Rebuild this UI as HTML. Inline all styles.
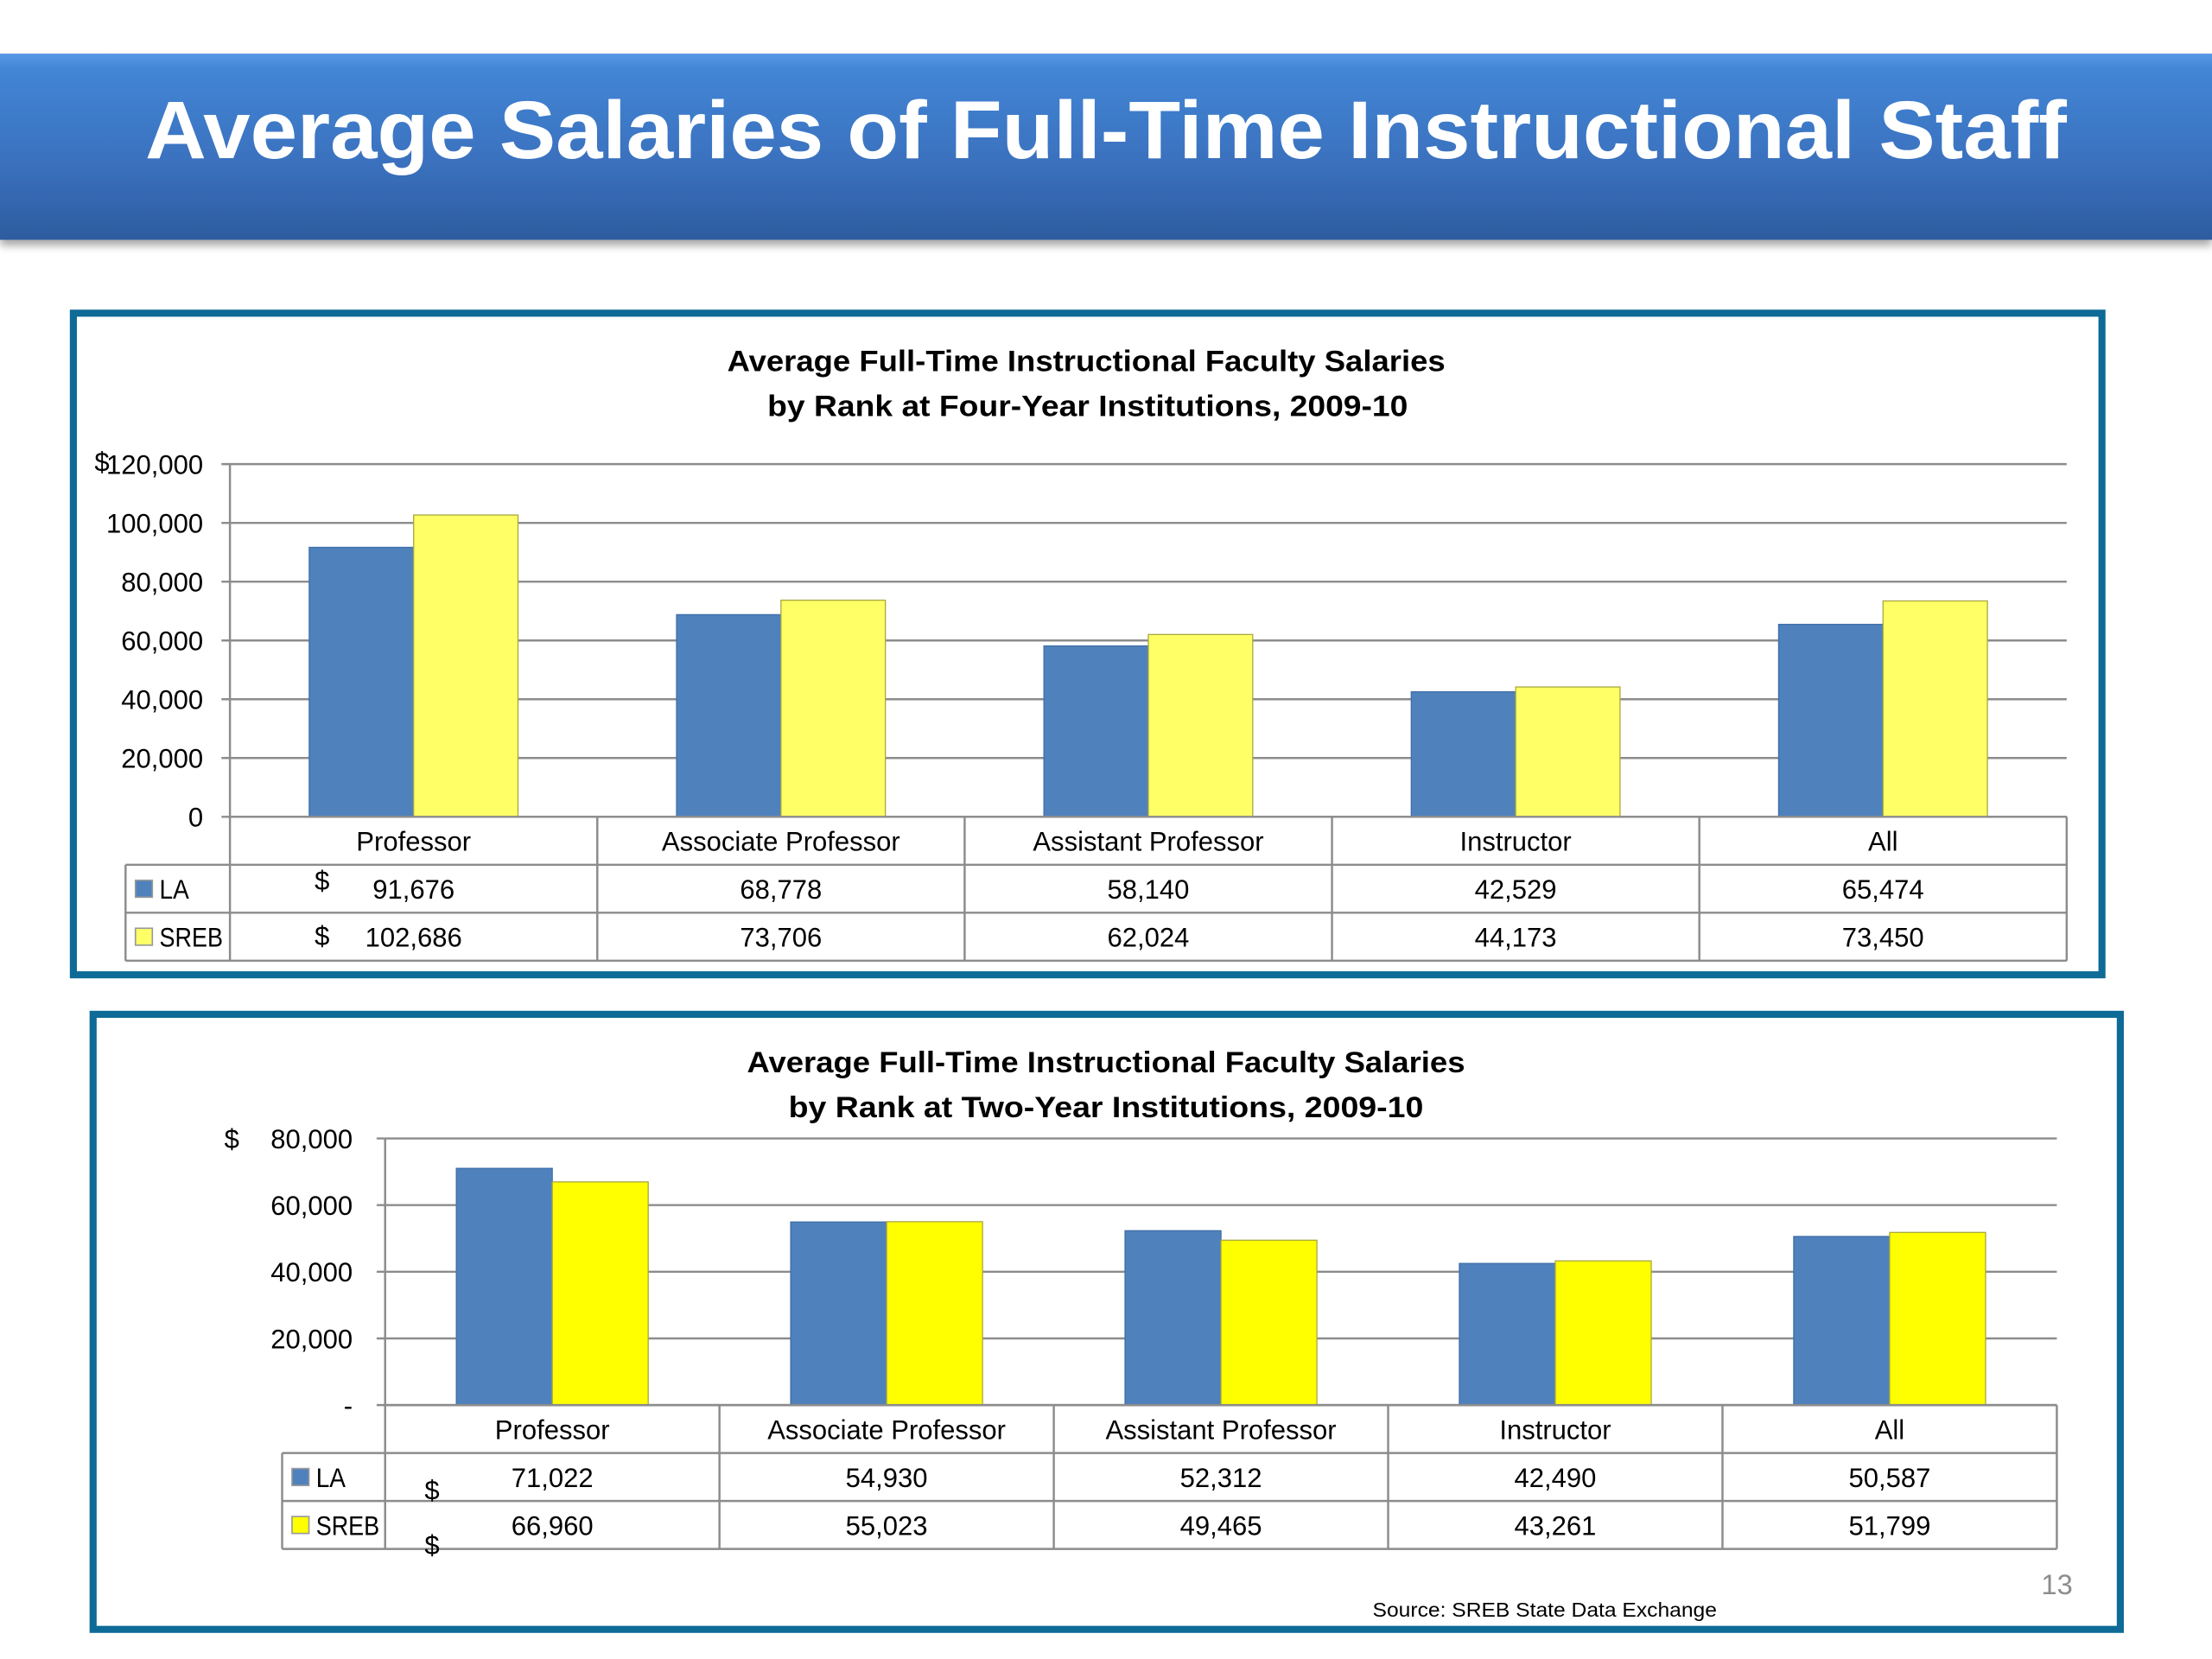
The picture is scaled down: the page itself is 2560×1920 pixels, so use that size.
<!DOCTYPE html>
<html><head><meta charset="utf-8"><style>
html,body{margin:0;padding:0;background:#fff;width:2560px;height:1920px;overflow:hidden}
svg{display:block}
text{font-family:"Liberation Sans",sans-serif}
</style></head><body>
<svg id="s" width="2560" height="1920" viewBox="0 0 1568 1176" xmlns="http://www.w3.org/2000/svg">
<defs>
<linearGradient id="bg" x1="0" y1="0" x2="0" y2="1">
<stop offset="0" stop-color="#5a9ae6"/><stop offset="0.08" stop-color="#4286d6"/><stop offset="0.6" stop-color="#3a70bd"/><stop offset="1" stop-color="#2d5c9f"/></linearGradient>
<filter id="sh" x="-5%" y="-20%" width="110%" height="150%"><feDropShadow dx="0" dy="4" stdDeviation="3" flood-color="#000" flood-opacity="0.35"/></filter>
</defs>
<rect x="0" y="38" width="1568" height="132" fill="url(#bg)" filter="url(#sh)"/>
<text x="784" y="112" text-anchor="middle" fill="#fff" font-weight="bold" font-size="58" textLength="1362" lengthAdjust="spacingAndGlyphs">Average Salaries of Full-Time Instructional Staff</text>

<rect x="52" y="222" width="1438" height="469" fill="#fff" stroke="#0e6a96" stroke-width="5"/>
<text x="770" y="263" text-anchor="middle" font-weight="bold" font-size="21" textLength="509" lengthAdjust="spacingAndGlyphs">Average Full-Time Instructional Faculty Salaries</text>
<text x="771" y="295" text-anchor="middle" font-weight="bold" font-size="21" textLength="454" lengthAdjust="spacingAndGlyphs">by Rank at Four-Year Institutions, 2009-10</text>
<text x="67" y="334" font-size="19">$</text>
<g id="c1"></g>

<rect x="66" y="719" width="1437" height="436" fill="#fff" stroke="#0e6a96" stroke-width="5"/>
<text x="784" y="760" text-anchor="middle" font-weight="bold" font-size="21" textLength="509" lengthAdjust="spacingAndGlyphs">Average Full-Time Instructional Faculty Salaries</text>
<text x="784" y="792" text-anchor="middle" font-weight="bold" font-size="21" textLength="450" lengthAdjust="spacingAndGlyphs">by Rank at Two-Year Institutions, 2009-10</text>
<text x="159" y="814" font-size="19">$</text>
<g id="c2"></g>

<text x="1447" y="1130" font-size="20" fill="#8c8c8c">13</text>
<text x="973" y="1146" font-size="14" textLength="244" lengthAdjust="spacingAndGlyphs">Source:  SREB State Data Exchange</text>
</svg>
<script>
const categories1 = ["Professor","Associate Professor","Assistant Professor","Instructor","All"];
const la1 = [91676,68778,58140,42529,65474];
const sreb1 = [102686,73706,62024,44173,73450];
const ticks1 = [0,20000,40000,60000,80000,100000,120000];
const tickLabels1 = ["0","20,000","40,000","60,000","80,000","100,000","120,000"];

const categories2 = ["Professor","Associate Professor","Assistant Professor","Instructor","All"];
const la2 = [71022,54930,52312,42490,50587];
const sreb2 = [66960,55023,49465,43261,51799];
const ticks2 = [0,20000,40000,60000,80000];
const tickLabels2 = ["-","20,000","40,000","60,000","80,000"];

const NS="http://www.w3.org/2000/svg";
function mk(parent,tag,attrs,txt){const e=document.createElementNS(NS,tag);for(const k in attrs)e.setAttribute(k,attrs[k]);if(txt!==undefined)e.textContent=txt;parent.appendChild(e);return e;}
function fmt(v){return v.toLocaleString('en-US');}

function draw(g,cfg,cats,la,sreb,ticks,tlabels){
  const {x0,x1,y0,yTop,max,bw,legX,rowH,lblX,fs,srebColor,dollars}=cfg;
  const y=v=>y0-(v/max)*(y0-yTop);
  const cw=(x1-x0)/cats.length;
  const cx=i=>x0+cw*(i+0.5);
  ticks.forEach((t,i)=>{
    const l=mk(g,'line',{x1:x0-6,x2:x1,y1:y(t),y2:y(t),stroke:'#8c8c8c','stroke-width':1.5});
    
    
    const tx=mk(g,'text',{x:lblX,y:y(t)+7,'text-anchor':'end','font-size':fs,fill:'#000'},tlabels[i]);
    
    
  });
  mk(g,'line',{x1:x0,x2:x0,y1:yTop,y2:y0+rowH*3,stroke:'#8c8c8c','stroke-width':1.5});
  cats.forEach((c,i)=>{
    const b1=mk(g,'rect',{x:cx(i)-bw,y:y(la[i]),width:bw,height:y0-y(la[i]),fill:'#4f81bd',stroke:'#3f6fa8','stroke-width':0.8});
    
    
    const b2=mk(g,'rect',{x:cx(i),y:y(sreb[i]),width:bw,height:y0-y(sreb[i]),fill:srebColor,stroke:'#a8a840','stroke-width':0.8});
    
    
  });
  const tl=mk(g,'g',{stroke:'#8c8c8c','stroke-width':1.5,fill:'none'});
  
  
  mk(tl,'line',{x1:x0,x2:x1,y1:y0,y2:y0});
  mk(tl,'line',{x1:legX,x2:x1,y1:y0+rowH,y2:y0+rowH});
  mk(tl,'line',{x1:legX,x2:x1,y1:y0+rowH*2,y2:y0+rowH*2});
  mk(tl,'line',{x1:legX,x2:x1,y1:y0+rowH*3,y2:y0+rowH*3});
  mk(tl,'line',{x1:legX,x2:legX,y1:y0+rowH,y2:y0+rowH*3});
  for(let i=1;i<=cats.length;i++) mk(tl,'line',{x1:x0+cw*i,x2:x0+cw*i,y1:y0,y2:y0+rowH*3});
  cats.forEach((c,i)=>{
    const t=mk(g,'text',{x:cx(i),y:y0+rowH*0.5+7,'text-anchor':'middle','font-size':fs},c);
    
    
    const a=mk(g,'text',{x:cx(i),y:y0+rowH*1.5+7,'text-anchor':'middle','font-size':fs},fmt(la[i]));
    
    
    const b=mk(g,'text',{x:cx(i),y:y0+rowH*2.5+7,'text-anchor':'middle','font-size':fs},fmt(sreb[i]));
    
    
  });
  dollars.forEach(d=>{mk(g,'text',{x:d[0],y:d[1],'font-size':fs},'$');});
  const s1=mk(g,'rect',{x:legX+7,y:y0+rowH*1.5-6,width:12,height:12,fill:'#4f81bd',stroke:'#999'});
  
  
  const l1=mk(g,'text',{x:legX+24,y:y0+rowH*1.5+7,'font-size':fs,textLength:21,lengthAdjust:'spacingAndGlyphs'},'LA');
  
  
  const s2=mk(g,'rect',{x:legX+7,y:y0+rowH*2.5-6,width:12,height:12,fill:srebColor,stroke:'#999'});
  
  
  const l2=mk(g,'text',{x:legX+24,y:y0+rowH*2.5+7,'font-size':fs,textLength:45,lengthAdjust:'spacingAndGlyphs'},'SREB');
  
  
}
draw(document.getElementById('c1'),{x0:163,x1:1465,y0:579,yTop:329,max:120000,bw:74,legX:89,rowH:34,lblX:144,fs:19,srebColor:'#ffff66',dollars:[[223,631],[223,670]]},categories1,la1,sreb1,ticks1,tickLabels1);
draw(document.getElementById('c2'),{x0:273,x1:1458,y0:996,yTop:807,max:80000,bw:68,legX:200,rowH:34,lblX:250,fs:19,srebColor:'#ffff00',dollars:[[301,1063],[301,1102]]},categories2,la2,sreb2,ticks2,tickLabels2);
</script>
</body></html>
